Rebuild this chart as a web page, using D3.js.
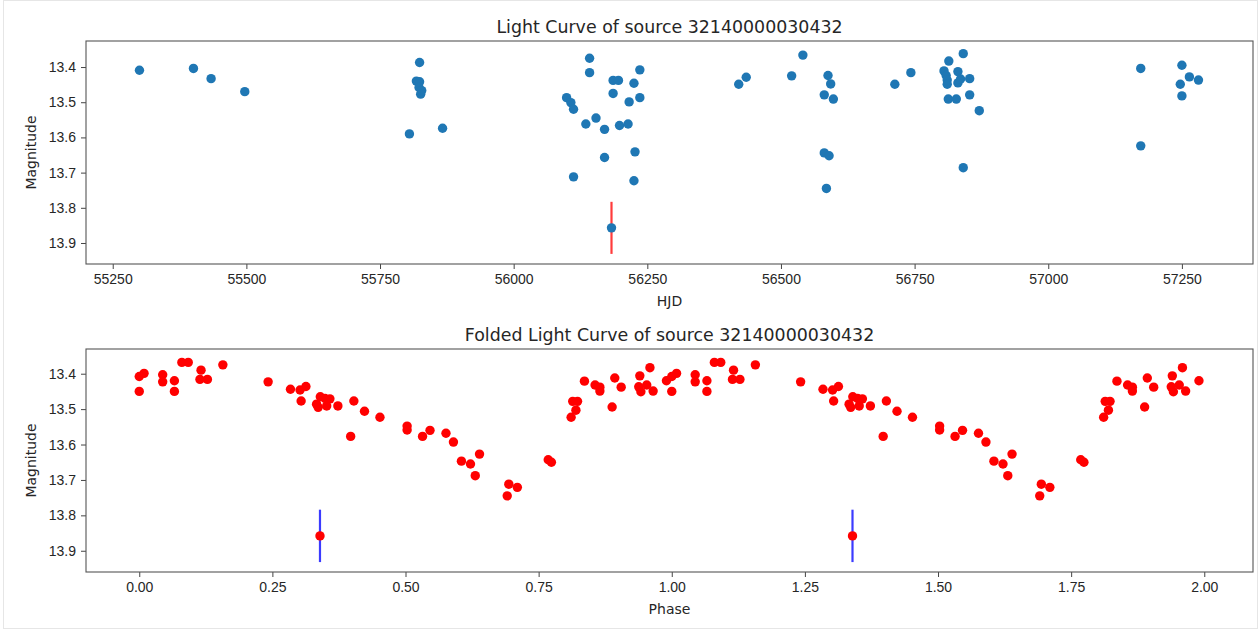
<!DOCTYPE html>
<html>
<head>
<meta charset="utf-8">
<script src="https://cdn.jsdelivr.net/npm/d3@7"></script>
<style>
  body { margin: 0; background: #fff; }
  svg { font-family: "DejaVu Sans", sans-serif; }
  .tick text { font-size: 14px; fill: #262626; }
  .tick line { stroke: #444; }
  .domain { display: none; }
</style>
</head>
<body>
<svg class="chart"></svg>
<script>
// light curve (HJD vs magnitude)
var hjd = [55300, 55401, 55434, 55497, 55805, 55824, 55818, 55824, 55823, 55828, 55826, 55867,
  56099, 56107, 56112, 56112, 56142, 56142, 56135, 56154, 56170, 56170, 56186, 56196, 56186,
  56198, 56214, 56216, 56225, 56236, 56236, 56227, 56225,
  56421, 56435, 56520, 56541, 56588, 56593, 56581, 56598, 56581, 56590, 56585,
  56713, 56743, 56814, 56841, 56805, 56809, 56831, 56811, 56811, 56831, 56836, 56853,
  56813, 56828, 56853, 56871, 56841,
  57173, 57173, 57250, 57247, 57250, 57264, 57281];
var mag = [13.409, 13.404, 13.433, 13.470, 13.590, 13.387, 13.440, 13.442, 13.458, 13.467, 13.477, 13.574,
  13.487, 13.501, 13.520, 13.712, 13.375, 13.416, 13.562, 13.545, 13.577, 13.657, 13.438, 13.438, 13.475,
  13.566, 13.562, 13.499, 13.446, 13.408, 13.487, 13.641, 13.723,
  13.449, 13.429, 13.425, 13.366, 13.424, 13.448, 13.479, 13.491, 13.644, 13.652, 13.745,
  13.449, 13.416, 13.383, 13.362, 13.411, 13.424, 13.413, 13.437, 13.449, 13.445, 13.434, 13.433,
  13.491, 13.491, 13.479, 13.524, 13.686,
  13.404, 13.624, 13.395, 13.449, 13.482, 13.428, 13.437];

// the one point drawn with an error bar
var errHjd = [56183];
var errMag = [13.857];
var errSize = [0.074];

// folded light curve, one cycle (plotted twice: phase and phase + 1)
var phase = [0.000, 0.009, 0.000, 0.044, 0.044, 0.066, 0.066, 0.080, 0.092, 0.116, 0.114, 0.128, 0.157,
  0.242, 0.284, 0.302, 0.313, 0.304, 0.333, 0.336, 0.340, 0.349, 0.352, 0.358, 0.373,
  0.403, 0.397, 0.423, 0.452, 0.503, 0.503, 0.532, 0.546, 0.576, 0.590, 0.605, 0.622, 0.631, 0.639,
  0.691, 0.694, 0.710, 0.768, 0.774,
  0.811, 0.814, 0.823, 0.820, 0.836, 0.856, 0.865, 0.865, 0.888, 0.893, 0.905,
  0.940, 0.938, 0.942, 0.953, 0.959, 0.965, 0.990];
var phaseMag = [13.408, 13.399, 13.450, 13.403, 13.423, 13.420, 13.450, 13.368, 13.368, 13.390, 13.416, 13.416, 13.375,
  13.423, 13.444, 13.446, 13.436, 13.477, 13.486, 13.495, 13.465, 13.470, 13.491, 13.471, 13.491,
  13.477, 13.577, 13.506, 13.523, 13.548, 13.559, 13.577, 13.560, 13.568, 13.593, 13.647, 13.655, 13.688, 13.627,
  13.745, 13.712, 13.721, 13.643, 13.650,
  13.523, 13.478, 13.478, 13.503, 13.421, 13.432, 13.438, 13.449, 13.494, 13.412, 13.438,
  13.406, 13.437, 13.451, 13.432, 13.383, 13.449, 13.420];
var errPhase = [0.3394, 1.3394];
var errPhaseMag = [13.858, 13.858];

var hjdTicks = [55250, 55500, 55750, 56000, 56250, 56500, 56750, 57000, 57250];
var phaseTicks = [0, 0.25, 0.5, 0.75, 1, 1.25, 1.5, 1.75, 2];
var magTicks = [13.4, 13.5, 13.6, 13.7, 13.8, 13.9];

var width = 1258;
var height = 629;

var chart = d3.select(".chart")
    .attr("width", width)
    .attr("height", height);

// notebook output frame
chart.append("rect")
    .attr("x", 3.5).attr("y", 0.5)
    .attr("width", width - 4).attr("height", height - 1)
    .attr("fill", "none")
    .attr("stroke", "#e6e6e6");

var left = 86, right = 1253;

function panel(top, bottom, xDomain, yDomain, xTicks, xFmt, title, xLabel) {
    var x = d3.scaleLinear().domain(xDomain).range([left, right]);
    var y = d3.scaleLinear().domain(yDomain).range([top, bottom]);
    var g = chart.append("g");

    g.append("g")
        .attr("transform", "translate(0," + bottom + ")")
        .call(d3.axisBottom(x).tickValues(xTicks).tickFormat(d3.format(xFmt))
            .tickSize(5).tickPadding(5));
    g.append("g")
        .attr("transform", "translate(" + left + ",0)")
        .call(d3.axisLeft(y).tickValues(magTicks).tickFormat(d3.format(".1f"))
            .tickSize(5).tickPadding(5));

    g.append("rect")
        .attr("x", left).attr("y", top)
        .attr("width", right - left).attr("height", bottom - top)
        .attr("fill", "none")
        .attr("stroke", "#555")
        .attr("stroke-width", 1.1);

    g.append("text")
        .attr("x", (left + right) / 2).attr("y", top - 8)
        .attr("text-anchor", "middle")
        .attr("font-size", 17.4)
        .attr("fill", "#262626")
        .text(title);
    g.append("text")
        .attr("x", (left + right) / 2).attr("y", bottom + 42)
        .attr("text-anchor", "middle")
        .attr("font-size", 14)
        .attr("fill", "#262626")
        .text(xLabel);
    g.append("text")
        .attr("transform", "translate(36," + (top + bottom) / 2 + ") rotate(-90)")
        .attr("text-anchor", "middle")
        .attr("font-size", 14)
        .attr("fill", "#262626")
        .text("Magnitude");

    return { g: g, x: x, y: y };
}

// top: light curve
var p1 = panel(41, 264, [55200, 57383], [13.326, 13.9597], hjdTicks, "d",
    "Light Curve of source 32140000030432", "HJD");

p1.g.selectAll("line.err")
    .data(errHjd)
    .enter()
    .append("line")
    .attr("class", "err")
    .attr("x1", function(d) { return p1.x(d); })
    .attr("x2", function(d) { return p1.x(d); })
    .attr("y1", function(d, i) { return p1.y(errMag[i] - errSize[i]); })
    .attr("y2", function(d, i) { return p1.y(errMag[i] + errSize[i]); })
    .attr("stroke", "#ff3b3b")
    .attr("stroke-width", 2.2);

p1.g.selectAll("circle.pt")
    .data(hjd.concat(errHjd))
    .enter()
    .append("circle")
    .attr("class", "pt")
    .attr("cx", function(d) { return p1.x(d); })
    .attr("cy", function(d, i) { return p1.y(i < mag.length ? mag[i] : errMag[i - mag.length]); })
    .attr("r", 4.7)
    .attr("fill", "#1f77b4");

// bottom: folded light curve, two cycles
var foldPhase = phase.concat(phase.map(function(p) { return p + 1; }));
var foldMag = phaseMag.concat(phaseMag);

var p2 = panel(349, 572, [-0.1, 2.0915], [13.3302, 13.960], phaseTicks, ".2f",
    "Folded Light Curve of source 32140000030432", "Phase");

p2.g.selectAll("line.err")
    .data(errPhase)
    .enter()
    .append("line")
    .attr("class", "err")
    .attr("x1", function(d) { return p2.x(d); })
    .attr("x2", function(d) { return p2.x(d); })
    .attr("y1", function(d, i) { return p2.y(errPhaseMag[i] - errSize[0]); })
    .attr("y2", function(d, i) { return p2.y(errPhaseMag[i] + errSize[0]); })
    .attr("stroke", "#3b3bff")
    .attr("stroke-width", 2.2);

p2.g.selectAll("circle.pt")
    .data(foldPhase.concat(errPhase))
    .enter()
    .append("circle")
    .attr("class", "pt")
    .attr("cx", function(d) { return p2.x(d); })
    .attr("cy", function(d, i) { return p2.y(i < foldMag.length ? foldMag[i] : errPhaseMag[i - foldMag.length]); })
    .attr("r", 4.7)
    .attr("fill", "#ff0000");
</script>
</body>
</html>
